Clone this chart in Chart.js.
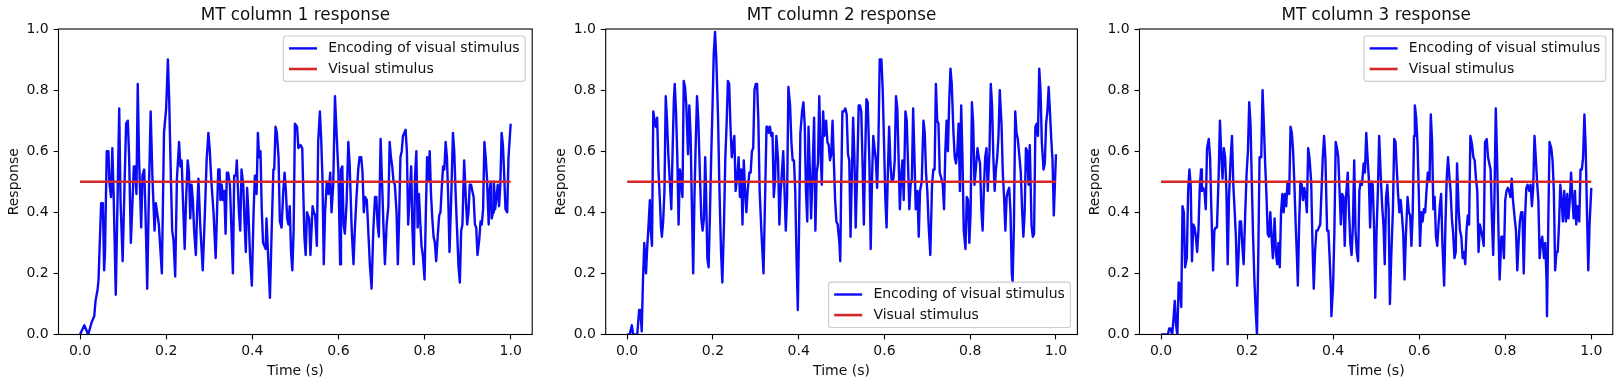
<!DOCTYPE html>
<html><head><meta charset="utf-8">
<script src="https://cdn.jsdelivr.net/npm/chart.js@4.4.1/dist/chart.umd.min.js"></script>
<style>
html,body{margin:0;padding:0;background:#fff;width:1623px;height:387px;overflow:hidden;}
canvas{position:absolute;top:0;}
</style></head><body>
<canvas id="c1" width="540" height="387" style="left:0px;width:540px;height:387px"></canvas>
<canvas id="c2" width="540" height="387" style="left:547px;width:540px;height:387px"></canvas>
<canvas id="c3" width="540" height="387" style="left:1081px;width:540px;height:387px"></canvas>
<script>
const titles = ['MT column 1 response', 'MT column 2 response', 'MT column 3 response'];
const seriesLabels = ['Encoding of visual stimulus', 'Visual stimulus'];
const xAxisLabel = 'Time (s)';
const yAxisLabel = 'Response';
const xTicks = [0, 0.2, 0.4, 0.6, 0.8, 1.0];
const yTicks = [0, 0.2, 0.4, 0.6, 0.8, 1.0];
const stimTime = [0, 1];
const stimResp = [0.5, 0.5];

const time1 = [0,0.010,0.019,0.027,0.033,0.036,0.041,0.043,0.049,0.053,
0.056,0.058,0.062,0.066,0.068,0.072,0.075,0.078,0.083,0.086,
0.091,0.094,0.099,0.103,0.107,0.111,0.114,0.118,0.122,0.125,
0.128,0.131,0.134,0.137,0.142,0.145,0.149,0.152,0.156,0.160,
0.164,0.168,0.173,0.176,0.179,0.183,0.190,0.195,0.200,0.204,
0.207,0.211,0.214,0.217,0.221,0.225,0.230,0.233,0.236,0.239,
0.243,0.246,0.250,0.253,0.256,0.259,0.262,0.265,0.269,0.272,
0.275,0.279,0.285,0.290,0.294,0.298,0.301,0.305,0.310,0.315,
0.321,0.324,0.326,0.329,0.332,0.335,0.338,0.341,0.344,0.348,
0.351,0.355,0.358,0.362,0.364,0.366,0.369,0.372,0.375,0.379,
0.382,0.385,0.388,0.391,0.395,0.399,0.403,0.406,0.408,0.410,
0.413,0.416,0.419,0.422,0.425,0.428,0.431,0.433,0.437,0.441,
0.445,0.449,0.451,0.454,0.457,0.461,0.464,0.468,0.472,0.475,
0.478,0.481,0.484,0.487,0.490,0.493,0.496,0.499,0.504,0.507,
0.512,0.516,0.521,0.524,0.527,0.532,0.535,0.540,0.543,0.546,
0.550,0.553,0.557,0.560,0.563,0.566,0.569,0.573,0.577,0.581,
0.584,0.588,0.592,0.596,0.600,0.604,0.606,0.609,0.612,0.615,
0.619,0.623,0.626,0.631,0.635,0.638,0.642,0.646,0.649,0.653,
0.656,0.659,0.662,0.666,0.670,0.673,0.677,0.681,0.685,0.688,
0.691,0.694,0.698,0.702,0.705,0.708,0.712,0.716,0.719,0.722,
0.725,0.728,0.731,0.735,0.738,0.741,0.744,0.747,0.750,0.753,
0.756,0.759,0.762,0.766,0.769,0.772,0.775,0.778,0.781,0.784,
0.787,0.790,0.793,0.796,0.800,0.803,0.806,0.809,0.812,0.815,
0.818,0.821,0.824,0.827,0.831,0.834,0.837,0.840,0.843,0.846,
0.849,0.852,0.855,0.858,0.862,0.866,0.869,0.872,0.875,0.879,
0.882,0.885,0.888,0.892,0.896,0.899,0.902,0.905,0.908,0.911,
0.914,0.917,0.920,0.923,0.927,0.930,0.933,0.936,0.939,0.942,
0.945,0.949,0.951,0.954,0.956,0.959,0.961,0.964,0.967,0.970,
0.973,0.976,0.979,0.982,0.985,0.988,0.992,0.995,1.000];
const resp1 = [0,0.03,0.00,0.04,0.06,0.11,0.15,0.18,0.43,0.43,
0.21,0.27,0.60,0.60,0.50,0.45,0.61,0.46,0.13,0.36,
0.74,0.44,0.24,0.47,0.69,0.70,0.58,0.30,0.44,0.55,
0.55,0.46,0.82,0.58,0.35,0.52,0.54,0.40,0.15,0.47,
0.73,0.52,0.34,0.43,0.40,0.36,0.20,0.66,0.74,0.90,
0.77,0.51,0.34,0.31,0.19,0.51,0.63,0.55,0.57,0.44,
0.28,0.43,0.57,0.53,0.38,0.49,0.44,0.34,0.26,0.41,
0.51,0.36,0.21,0.40,0.57,0.66,0.61,0.50,0.40,0.25,
0.54,0.54,0.44,0.49,0.44,0.47,0.33,0.53,0.53,0.49,
0.37,0.20,0.52,0.52,0.57,0.50,0.40,0.34,0.54,0.49,
0.37,0.27,0.48,0.40,0.25,0.16,0.40,0.52,0.52,0.46,
0.66,0.58,0.60,0.41,0.30,0.29,0.28,0.38,0.25,0.12,
0.34,0.54,0.54,0.68,0.66,0.58,0.37,0.35,0.47,0.53,
0.47,0.38,0.36,0.42,0.27,0.21,0.34,0.69,0.68,0.61,
0.62,0.61,0.32,0.26,0.40,0.38,0.26,0.42,0.40,0.39,
0.29,0.63,0.73,0.64,0.51,0.23,0.40,0.50,0.46,0.53,
0.40,0.49,0.78,0.65,0.53,0.23,0.54,0.55,0.36,0.33,
0.43,0.63,0.56,0.34,0.23,0.34,0.45,0.54,0.58,0.58,
0.53,0.40,0.45,0.44,0.32,0.23,0.15,0.34,0.45,0.45,
0.36,0.32,0.64,0.47,0.34,0.23,0.36,0.42,0.63,0.58,
0.55,0.50,0.49,0.40,0.23,0.38,0.58,0.60,0.65,0.66,
0.67,0.60,0.36,0.47,0.55,0.34,0.23,0.52,0.60,0.35,
0.46,0.37,0.29,0.26,0.18,0.40,0.58,0.50,0.60,0.46,
0.38,0.32,0.30,0.24,0.33,0.39,0.40,0.48,0.55,0.54,
0.63,0.58,0.45,0.27,0.45,0.66,0.60,0.47,0.36,0.22,
0.17,0.34,0.36,0.57,0.44,0.36,0.40,0.49,0.49,0.47,
0.45,0.36,0.35,0.26,0.31,0.37,0.36,0.41,0.63,0.58,
0.51,0.36,0.47,0.50,0.38,0.40,0.50,0.41,0.45,0.49,
0.42,0.49,0.66,0.62,0.52,0.41,0.40,0.58,0.69];

const time2 = [0,0.006,0.011,0.014,0.019,0.023,0.028,0.031,0.034,0.037,
0.040,0.044,0.047,0.050,0.053,0.055,0.058,0.061,0.064,0.067,
0.070,0.073,0.076,0.079,0.081,0.084,0.087,0.090,0.093,0.096,
0.100,0.103,0.106,0.109,0.111,0.114,0.117,0.120,0.123,0.126,
0.129,0.132,0.135,0.138,0.142,0.145,0.148,0.151,0.154,0.157,
0.160,0.163,0.166,0.170,0.173,0.176,0.179,0.182,0.184,0.187,
0.190,0.193,0.196,0.199,0.202,0.205,0.208,0.212,0.215,0.219,
0.222,0.226,0.229,0.232,0.235,0.238,0.241,0.244,0.247,0.250,
0.253,0.257,0.260,0.263,0.266,0.269,0.272,0.275,0.278,0.281,
0.285,0.288,0.291,0.294,0.297,0.300,0.303,0.306,0.309,0.313,
0.318,0.322,0.325,0.327,0.330,0.333,0.336,0.339,0.342,0.345,
0.348,0.352,0.355,0.358,0.361,0.364,0.367,0.370,0.373,0.376,
0.380,0.383,0.386,0.389,0.392,0.395,0.398,0.401,0.404,0.408,
0.411,0.414,0.417,0.420,0.423,0.426,0.429,0.432,0.436,0.439,
0.442,0.445,0.448,0.451,0.454,0.457,0.460,0.464,0.467,0.470,
0.473,0.476,0.479,0.482,0.485,0.488,0.491,0.495,0.497,0.499,
0.502,0.505,0.509,0.512,0.515,0.518,0.521,0.524,0.527,0.530,
0.533,0.537,0.540,0.543,0.546,0.549,0.552,0.555,0.558,0.561,
0.565,0.568,0.571,0.574,0.577,0.580,0.583,0.586,0.589,0.593,
0.596,0.599,0.602,0.605,0.608,0.611,0.614,0.617,0.621,0.624,
0.627,0.630,0.633,0.636,0.639,0.642,0.645,0.649,0.652,0.655,
0.658,0.661,0.664,0.667,0.670,0.673,0.677,0.680,0.683,0.687,
0.691,0.694,0.697,0.700,0.703,0.707,0.711,0.714,0.717,0.720,
0.723,0.726,0.729,0.733,0.736,0.739,0.742,0.745,0.748,0.751,
0.754,0.757,0.761,0.764,0.767,0.770,0.773,0.776,0.779,0.782,
0.785,0.789,0.792,0.795,0.798,0.801,0.804,0.807,0.810,0.813,
0.817,0.820,0.823,0.826,0.829,0.832,0.835,0.838,0.841,0.845,
0.848,0.851,0.854,0.857,0.860,0.863,0.866,0.869,0.873,0.876,
0.879,0.882,0.885,0.888,0.891,0.894,0.897,0.899,0.902,0.905,
0.908,0.911,0.915,0.918,0.921,0.924,0.927,0.930,0.933,0.936,
0.939,0.943,0.946,0.949,0.952,0.955,0.958,0.961,0.964,0.967,
0.971,0.974,0.977,0.980,0.983,0.986,0.989,0.992,0.995,1.000];
const resp2 = [0,0.00,0.03,0.00,0.00,-0.01,0.08,0.08,0.01,0.18,
0.30,0.20,0.29,0.36,0.44,0.34,0.29,0.73,0.70,0.68,
0.71,0.54,0.45,0.35,0.32,0.37,0.47,0.78,0.70,0.59,
0.49,0.41,0.60,0.77,0.82,0.73,0.58,0.36,0.54,0.50,
0.45,0.83,0.81,0.75,0.59,0.75,0.65,0.42,0.20,0.45,
0.63,0.78,0.70,0.51,0.38,0.34,0.38,0.58,0.47,0.25,
0.22,0.39,0.58,0.74,0.92,0.99,0.90,0.71,0.49,0.27,
0.17,0.37,0.58,0.69,0.83,0.82,0.68,0.58,0.62,0.65,
0.47,0.52,0.58,0.45,0.54,0.36,0.57,0.47,0.40,0.47,
0.53,0.53,0.60,0.61,0.80,0.82,0.82,0.70,0.47,0.34,
0.20,0.47,0.68,0.68,0.66,0.68,0.65,0.66,0.45,0.51,
0.65,0.57,0.36,0.47,0.53,0.60,0.47,0.34,0.45,0.81,
0.75,0.63,0.57,0.57,0.47,0.25,0.08,0.36,0.66,0.73,
0.76,0.69,0.47,0.37,0.68,0.54,0.38,0.51,0.71,0.34,
0.53,0.56,0.78,0.60,0.49,0.73,0.65,0.70,0.63,0.62,
0.57,0.59,0.70,0.57,0.44,0.37,0.36,0.30,0.24,0.47,
0.73,0.73,0.74,0.72,0.59,0.57,0.32,0.52,0.71,0.58,
0.35,0.56,0.75,0.75,0.73,0.56,0.36,0.58,0.77,0.76,
0.56,0.28,0.51,0.65,0.61,0.57,0.48,0.63,0.90,0.90,
0.80,0.63,0.45,0.35,0.53,0.68,0.56,0.50,0.51,0.57,
0.78,0.74,0.58,0.41,0.52,0.57,0.44,0.73,0.70,0.56,
0.41,0.49,0.51,0.74,0.58,0.41,0.47,0.32,0.47,0.50,
0.70,0.66,0.53,0.47,0.36,0.26,0.49,0.54,0.54,0.82,
0.70,0.69,0.53,0.51,0.49,0.41,0.60,0.70,0.60,0.76,
0.87,0.82,0.66,0.58,0.56,0.60,0.69,0.47,0.75,0.58,
0.34,0.28,0.45,0.44,0.30,0.40,0.76,0.69,0.49,0.54,
0.61,0.58,0.56,0.41,0.34,0.48,0.58,0.61,0.47,0.60,
0.82,0.75,0.58,0.47,0.54,0.58,0.65,0.80,0.69,0.53,
0.45,0.34,0.45,0.47,0.48,0.40,0.20,0.17,0.36,0.73,
0.66,0.64,0.58,0.53,0.41,0.32,0.40,0.61,0.60,0.49,
0.62,0.36,0.32,0.33,0.68,0.69,0.65,0.87,0.80,0.63,
0.54,0.56,0.69,0.73,0.81,0.73,0.64,0.57,0.39,0.59];

const time3 = [0,0.010,0.016,0.019,0.022,0.026,0.029,0.032,0.035,0.038,
0.041,0.044,0.047,0.050,0.053,0.056,0.060,0.063,0.066,0.069,
0.072,0.075,0.078,0.081,0.084,0.087,0.090,0.093,0.095,0.098,
0.101,0.104,0.107,0.111,0.114,0.117,0.121,0.124,0.127,0.130,
0.134,0.137,0.140,0.143,0.146,0.149,0.152,0.155,0.158,0.162,
0.165,0.168,0.171,0.174,0.177,0.180,0.183,0.186,0.189,0.192,
0.196,0.199,0.202,0.205,0.208,0.211,0.214,0.217,0.220,0.223,
0.226,0.229,0.233,0.236,0.239,0.242,0.245,0.248,0.251,0.254,
0.257,0.260,0.264,0.267,0.270,0.273,0.276,0.279,0.282,0.285,
0.288,0.291,0.294,0.298,0.301,0.304,0.307,0.310,0.313,0.316,
0.318,0.321,0.324,0.327,0.330,0.333,0.336,0.339,0.342,0.345,
0.349,0.352,0.355,0.358,0.361,0.364,0.367,0.370,0.373,0.376,
0.379,0.382,0.386,0.389,0.392,0.395,0.396,0.400,0.403,0.406,
0.409,0.412,0.415,0.418,0.421,0.424,0.427,0.430,0.434,0.437,
0.440,0.443,0.446,0.449,0.452,0.455,0.458,0.461,0.464,0.467,
0.471,0.474,0.477,0.480,0.483,0.486,0.489,0.492,0.495,0.498,
0.501,0.504,0.507,0.511,0.514,0.517,0.520,0.523,0.526,0.529,
0.532,0.535,0.539,0.542,0.545,0.548,0.551,0.554,0.557,0.560,
0.563,0.566,0.569,0.573,0.576,0.579,0.582,0.585,0.588,0.590,
0.593,0.596,0.599,0.602,0.605,0.608,0.611,0.614,0.617,0.620,
0.624,0.627,0.630,0.633,0.636,0.639,0.642,0.645,0.648,0.651,
0.654,0.658,0.661,0.664,0.667,0.670,0.673,0.676,0.679,0.682,
0.685,0.688,0.692,0.695,0.698,0.701,0.704,0.707,0.710,0.713,
0.716,0.719,0.723,0.726,0.729,0.732,0.735,0.738,0.741,0.744,
0.747,0.750,0.753,0.757,0.760,0.763,0.766,0.769,0.772,0.775,
0.778,0.781,0.784,0.787,0.791,0.794,0.797,0.800,0.803,0.806,
0.809,0.812,0.815,0.818,0.822,0.825,0.828,0.831,0.834,0.837,
0.840,0.843,0.846,0.849,0.852,0.856,0.859,0.862,0.865,0.868,
0.871,0.874,0.877,0.880,0.883,0.886,0.890,0.893,0.896,0.897,
0.900,0.903,0.907,0.910,0.913,0.916,0.919,0.922,0.925,0.928,
0.931,0.934,0.937,0.941,0.944,0.947,0.950,0.953,0.956,0.959,
0.962,0.965,0.968,0.972,0.975,0.978,0.981,0.984,0.987,0.990,
0.993,0.996,1.000];
const resp3 = [0,0.00,0.00,0.02,0.02,0.00,0.05,0.11,0.03,0.00,
0.17,0.16,0.09,0.42,0.40,0.22,0.25,0.47,0.54,0.49,
0.24,0.36,0.35,0.32,0.27,0.34,0.48,0.54,0.47,0.48,
0.47,0.41,0.61,0.64,0.58,0.41,0.21,0.34,0.35,0.35,
0.52,0.70,0.59,0.51,0.61,0.58,0.47,0.23,0.45,0.58,
0.65,0.49,0.41,0.32,0.16,0.25,0.37,0.37,0.29,0.23,
0.41,0.53,0.60,0.76,0.69,0.50,0.32,0.18,0.08,0.00,
0.25,0.58,0.58,0.80,0.69,0.56,0.46,0.33,0.32,0.40,
0.32,0.25,0.38,0.27,0.23,0.30,0.22,0.40,0.46,0.40,
0.46,0.42,0.50,0.46,0.68,0.66,0.60,0.49,0.36,0.25,
0.16,0.36,0.50,0.49,0.44,0.48,0.45,0.40,0.61,0.58,
0.50,0.30,0.15,0.27,0.34,0.34,0.35,0.36,0.47,0.58,
0.65,0.58,0.34,0.34,0.25,0.14,0.06,0.16,0.34,0.63,
0.61,0.58,0.47,0.36,0.46,0.45,0.29,0.45,0.53,0.40,
0.30,0.26,0.36,0.57,0.34,0.27,0.24,0.47,0.50,0.49,
0.56,0.53,0.66,0.58,0.51,0.35,0.50,0.49,0.36,0.12,
0.34,0.47,0.65,0.51,0.42,0.36,0.23,0.45,0.49,0.41,
0.10,0.25,0.41,0.64,0.63,0.54,0.46,0.40,0.44,0.39,
0.33,0.18,0.32,0.45,0.40,0.39,0.29,0.40,0.65,0.75,
0.71,0.63,0.47,0.29,0.40,0.37,0.41,0.40,0.47,0.53,
0.50,0.72,0.63,0.41,0.45,0.32,0.29,0.36,0.42,0.46,
0.30,0.16,0.36,0.51,0.58,0.52,0.47,0.38,0.33,0.25,
0.27,0.56,0.40,0.34,0.32,0.25,0.27,0.23,0.34,0.39,
0.36,0.65,0.62,0.58,0.57,0.51,0.47,0.27,0.36,0.34,
0.32,0.29,0.63,0.64,0.58,0.56,0.54,0.38,0.26,0.45,
0.74,0.58,0.36,0.18,0.32,0.32,0.25,0.44,0.47,0.48,
0.47,0.45,0.51,0.44,0.38,0.34,0.21,0.30,0.37,0.40,
0.40,0.20,0.38,0.48,0.49,0.47,0.49,0.42,0.48,0.65,
0.58,0.50,0.44,0.25,0.30,0.32,0.25,0.30,0.18,0.06,
0.36,0.63,0.61,0.57,0.47,0.21,0.27,0.27,0.36,0.49,
0.44,0.37,0.47,0.37,0.46,0.38,0.44,0.53,0.45,0.38,
0.47,0.36,0.42,0.37,0.54,0.54,0.58,0.72,0.61,0.40,
0.21,0.36,0.48];

const FONT = 'DejaVu Sans';
const BLUE = '#0a0af5';
const RED = '#d62728';
const TXT = '#111111';

const framePlugin = {
  id: 'frame',
  afterDatasetsDraw(chart) {
    const ca = chart.chartArea, ctx = chart.ctx;
    ctx.save();
    ctx.strokeStyle = '#000';
    ctx.lineWidth = 1.1;
    ctx.strokeRect(ca.left, ca.top, ca.right - ca.left, ca.bottom - ca.top);
    ctx.restore();
  }
};

const mplLegend = {
  id: 'mplLegend',
  afterDraw(chart, args, opts) {
    const ctx = chart.ctx, ca = chart.chartArea, fs = 14;
    ctx.save();
    ctx.font = fs + 'px "' + FONT + '"';
    const items = chart.data.datasets.map(d => ({label: d.label, color: d.borderColor, width: d.borderWidth}));
    const tw = Math.max(...items.map(i => ctx.measureText(i.label).width));
    const pad = 0.4 * fs, hl = 2 * fs, htp = 0.8 * fs, ls = 0.5 * fs, bap = 0.5 * fs, rowH = 13.6;
    const w = pad + hl + htp + tw + pad;
    const h = 2 * pad + items.length * rowH + (items.length - 1) * ls;
    const right = ca.right - bap, left = right - w;
    const top = opts.loc === 'lower right' ? ca.bottom - bap - h : ca.top + bap;
    const r = 0.2 * fs;
    ctx.beginPath();
    ctx.moveTo(left + r, top);
    ctx.lineTo(left + w - r, top);
    ctx.arcTo(left + w, top, left + w, top + r, r);
    ctx.lineTo(left + w, top + h - r);
    ctx.arcTo(left + w, top + h, left + w - r, top + h, r);
    ctx.lineTo(left + r, top + h);
    ctx.arcTo(left, top + h, left, top + h - r, r);
    ctx.lineTo(left, top + r);
    ctx.arcTo(left, top, left + r, top, r);
    ctx.closePath();
    ctx.fillStyle = 'rgba(255,255,255,0.8)';
    ctx.fill();
    ctx.strokeStyle = '#cccccc';
    ctx.lineWidth = 1.1;
    ctx.stroke();
    items.forEach((it, i) => {
      const cy = top + pad + rowH / 2 + i * (rowH + ls);
      ctx.beginPath();
      ctx.moveTo(left + pad, cy);
      ctx.lineTo(left + pad + hl, cy);
      ctx.strokeStyle = it.color;
      ctx.lineWidth = it.width;
      ctx.stroke();
      ctx.fillStyle = TXT;
      ctx.textBaseline = 'middle';
      ctx.textAlign = 'left';
      ctx.fillText(it.label, left + pad + hl + htp, cy);
    });
    ctx.restore();
  }
};

const panels = [
  {id: 'c1', t: time1, r: resp1, yw: 58.5, pr: 7.8, loc: 'upper right'},
  {id: 'c2', t: time2, r: resp2, yw: 58.7, pr: 9.6, loc: 'lower right'},
  {id: 'c3', t: time3, r: resp3, yw: 58.5, pr: 8.2, loc: 'upper right'}
];

panels.forEach((p, k) => {
  new Chart(document.getElementById(p.id), {
    type: 'line',
    data: {
      datasets: [
        {label: seriesLabels[0], data: p.t.map((x, i) => ({x: x, y: p.r[i]})),
         borderColor: BLUE, borderWidth: 2.4, pointRadius: 0, tension: 0, fill: false,
         borderJoinStyle: 'round', order: 1},
        {label: seriesLabels[1], data: stimTime.map((x, i) => ({x: x, y: stimResp[i]})),
         borderColor: RED, borderWidth: 2.6, pointRadius: 0, tension: 0, fill: false, order: 0}
      ]
    },
    options: {
      responsive: false, animation: false, devicePixelRatio: 1,
      layout: {padding: {left: 0, right: p.pr, top: 0, bottom: 0}, autoPadding: false},
      plugins: {
        legend: {display: false},
        tooltip: {enabled: false},
        title: {display: true, text: titles[k], fullSize: false, color: TXT,
          font: {family: FONT, size: 16.8, weight: 'normal', lineHeight: 1.2},
          padding: {top: 5.4, bottom: 3.44}},
        mplLegend: {loc: p.loc}
      },
      scales: {
        x: {
          type: 'linear', min: -0.05, max: 1.05,
          afterBuildTicks: s => { s.ticks = xTicks.map(v => ({value: v})); },
          afterFit: s => { s.height = 52.5; },
          ticks: {callback: v => Number(v).toFixed(1), font: {family: FONT, size: 14, lineHeight: 1.2},
            color: TXT, padding: 3.9, maxRotation: 0, autoSkip: false},
          grid: {display: true, drawOnChartArea: false, drawTicks: true, tickLength: 4.9, tickWidth: 1.1, tickColor: '#000'},
          border: {display: false},
          title: {display: true, text: xAxisLabel, color: TXT, font: {family: FONT, size: 14, lineHeight: 1.2},
            padding: {top: 0, bottom: 6.9}}
        },
        y: {
          type: 'linear', min: 0, max: 1,
          afterBuildTicks: s => { s.ticks = yTicks.map(v => ({value: v})); },
          afterFit: s => { s.width = p.yw; },
          ticks: {callback: v => Number(v).toFixed(1), font: {family: FONT, size: 14, lineHeight: 1.2},
            color: TXT, padding: 4.9, autoSkip: false},
          grid: {display: true, drawOnChartArea: false, drawTicks: true, tickLength: 4.9, tickWidth: 1.1, tickColor: '#000'},
          border: {display: false},
          title: {display: true, text: yAxisLabel, color: TXT, font: {family: FONT, size: 14, lineHeight: 1.2},
            padding: {top: 5.9, bottom: 0}}
        }
      }
    },
    plugins: [framePlugin, mplLegend]
  });
});
</script>
</body></html>
